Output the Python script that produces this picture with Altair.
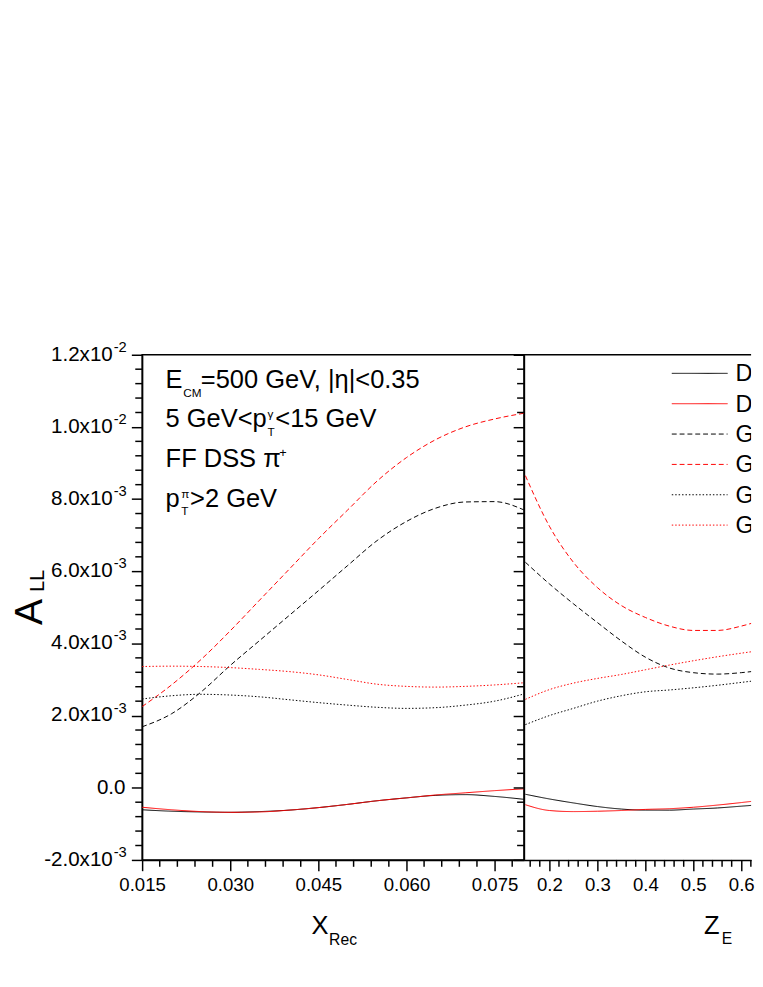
import altair as alt
import pandas as pd

FONT = "Liberation Sans"

# ---------------- data: A_LL values in units of 1e-3 ----------------
x_rec = [0.015, 0.020, 0.025, 0.030, 0.035, 0.040, 0.045, 0.050, 0.055, 0.060, 0.065, 0.070, 0.075, 0.080]
rec_black_solid = [-0.61, -0.65, -0.67, -0.68, -0.66, -0.62, -0.55, -0.46, -0.36, -0.28, -0.21, -0.19, -0.24, -0.32]
rec_red_solid = [-0.54, -0.61, -0.66, -0.68, -0.67, -0.62, -0.55, -0.46, -0.36, -0.28, -0.20, -0.14, -0.08, -0.03]
rec_black_dashed = [1.69, 2.05, 2.65, 3.39, 4.08, 4.77, 5.46, 6.16, 6.85, 7.38, 7.75, 7.92, 7.93, 7.70]
rec_red_dashed = [2.25, 2.85, 3.55, 4.35, 5.20, 6.05, 6.90, 7.70, 8.50, 9.15, 9.65, 10.00, 10.22, 10.38]
rec_black_dotted = [2.46, 2.55, 2.59, 2.57, 2.52, 2.44, 2.36, 2.29, 2.23, 2.20, 2.22, 2.29, 2.40, 2.60]
rec_red_dotted = [3.36, 3.37, 3.36, 3.33, 3.28, 3.22, 3.13, 3.00, 2.87, 2.81, 2.79, 2.81, 2.85, 2.91]

z_e = [0.15, 0.20, 0.25, 0.30, 0.35, 0.40, 0.45, 0.50, 0.55, 0.60, 0.65]
ze_black_solid = [-0.18, -0.31, -0.42, -0.52, -0.59, -0.62, -0.62, -0.59, -0.56, -0.51, -0.46]
ze_red_solid = [-0.47, -0.63, -0.66, -0.65, -0.63, -0.60, -0.58, -0.54, -0.48, -0.41, -0.33]
ze_black_dashed = [6.25, 5.65, 5.10, 4.58, 4.07, 3.62, 3.32, 3.19, 3.15, 3.19, 3.27]
ze_red_dashed = [8.65, 7.25, 6.25, 5.55, 5.05, 4.72, 4.48, 4.36, 4.36, 4.48, 4.68]
ze_black_dotted = [1.75, 2.00, 2.20, 2.40, 2.55, 2.66, 2.71, 2.77, 2.84, 2.92, 3.00]
ze_red_dotted = [2.45, 2.72, 2.90, 3.03, 3.14, 3.27, 3.40, 3.52, 3.63, 3.73, 3.82]

series_names = ["DSSV", "DNS", "GRSV max", "GS-A", "GRSV std", "GS-C"]
series_colors = ["#000000", "#ff0000", "#000000", "#ff0000", "#000000", "#ff0000"]
series_styles = ["solid", "solid", "dashed", "dashed", "dotted", "dotted"]

# tick values / labels
y_major = [-0.002, 0.0, 0.002, 0.004, 0.006, 0.008, 0.010, 0.012]
y_mantissa = ["-2.0x10", "0.0", "2.0x10", "4.0x10", "6.0x10", "8.0x10", "1.0x10", "1.2x10"]
y_exponent = ["-3", "", "-3", "-3", "-3", "-3", "-2", "-2"]
y_minor = [round(-0.002 + 0.0004 * i, 6) for i in range(36) if i % 5 != 0]

x_rec_major = [0.015, 0.030, 0.045, 0.060, 0.075]
x_rec_minor = [round(0.015 + 0.003 * i, 4) for i in range(1, 22) if i % 5 != 0]
z_major = [0.2, 0.3, 0.4, 0.5, 0.6]
z_minor = [round(0.16 + 0.02 * i, 3) for i in range(24) if (i + 3) % 5 != 0]

# ---------------- layout constants ----------------
W_L, W_R, H = 390, 232, 516
REC_DOMAIN = [0.015, 0.08]
Z_DOMAIN = [0.147, 0.147 + W_R / 490.0]
Y_DOMAIN = [-0.002, 0.012]
DASH = {"solid": [1, 0], "dashed": [5, 3], "dotted": [1.5, 2]}

y_axis = alt.Axis(values=y_major, tickSize=11, tickWidth=1.5, labels=False, title=None,
                  domainWidth=1.5, domainColor="black", tickColor="black", grid=False)
y_enc = alt.Y("y:Q", scale=alt.Scale(domain=Y_DOMAIN, nice=False, zero=False), axis=y_axis)


def x_axis(values, fmt):
    return alt.Axis(values=values, format=fmt, tickSize=11, tickWidth=1.5, title=None,
                    labelFont=FONT, labelFontSize=19, labelColor="black", labelPadding=5,
                    labelFlush=False, labelOverlap=False, domainWidth=1.5,
                    domainColor="black", tickColor="black", grid=False)


x_rec_enc = alt.X("x:Q", scale=alt.Scale(domain=REC_DOMAIN, nice=False, zero=False),
                  axis=x_axis(x_rec_major, ".3f"))
x_z_enc = alt.X("x:Q", scale=alt.Scale(domain=Z_DOMAIN, nice=False, zero=False),
                axis=x_axis(z_major, ".1f"))


def line_layer(xs, ys, idx, xenc):
    df = pd.DataFrame({"x": xs, "y": [v * 1e-3 for v in ys]})
    return alt.Chart(df).mark_line(
        color=series_colors[idx], strokeDash=DASH[series_styles[idx]], strokeWidth=1,
        interpolate="monotone", clip=True
    ).encode(x=xenc, y=y_enc)


def text(s, x, y, size, align="left", baseline="alphabetic", angle=0, clip=False):
    kw = dict(text=s, font=FONT, fontSize=size, align=align, baseline=baseline, color="black")
    if angle:
        kw["angle"] = angle
    if clip:
        kw["clip"] = True
    return alt.Chart(pd.DataFrame({"t": [s]})).mark_text(**kw).encode(
        x=alt.value(x), y=alt.value(y))


def minor_y_ticks():
    return alt.Chart(pd.DataFrame({"y": y_minor})).mark_rule(color="black", strokeWidth=1.5).encode(
        y=y_enc, x=alt.value(-7), x2=alt.value(0))


def minor_x_ticks(vals, xenc):
    return alt.Chart(pd.DataFrame({"x": vals})).mark_rule(color="black", strokeWidth=1.5).encode(
        x=xenc, y=alt.value(H), y2=alt.value(H + 7))


# ---------------- left panel ----------------
rec_series = [rec_black_solid, rec_red_solid, rec_black_dashed, rec_red_dashed,
              rec_black_dotted, rec_red_dotted]
left_layers = [line_layer(x_rec, s, i, x_rec_enc) for i, s in enumerate(rec_series)]
left_layers += [minor_y_ticks(), minor_x_ticks(x_rec_minor, x_rec_enc)]

ylab = pd.DataFrame({"y": y_major, "m": y_mantissa, "e": y_exponent})
left_layers.append(alt.Chart(ylab).transform_filter("datum.e != ''").mark_text(
    font=FONT, fontSize=21, align="right", baseline="middle", color="black").encode(
    y=y_enc, x=alt.value(-30), text="m:N"))
left_layers.append(alt.Chart(ylab).transform_filter("datum.e != ''").mark_text(
    font=FONT, fontSize=15, align="left", baseline="middle", color="black", dy=-8).encode(
    y=y_enc, x=alt.value(-29), text="e:N"))
left_layers.append(alt.Chart(ylab).transform_filter("datum.e == ''").mark_text(
    font=FONT, fontSize=21, align="right", baseline="middle", color="black").encode(
    y=y_enc, x=alt.value(-17), text="m:N"))

# annotations
left_layers += [
    text("E", 24, 34, 26),
    text("CM", 42, 43, 12),
    text("=500 GeV, |η|<0.35", 60, 34, 26),
    text("5 GeV<p", 24, 74, 26),
    text("T", 128, 83, 12),
    text("γ", 128, 65, 12),
    text("<15 GeV", 136, 74, 26),
    text("FF DSS π", 24, 115, 26),
    text("+", 140, 104, 13),
    text("p", 24, 155, 26),
    text("T", 40, 164, 12),
    text("π", 40, 146, 12),
    text(">2 GeV", 49, 155, 26),
    # axis titles
    text("X", 173, 592, 26),
    text("Rec", 191, 603, 16),
    text("A", -102, 276, 40, angle=270),
    text("LL", -100, 242, 20, angle=270),
]

left = alt.layer(*left_layers).properties(
    width=W_L, height=H, view=alt.ViewBackground(stroke="black", strokeWidth=1.5))

# ---------------- right panel ----------------
ze_series = [ze_black_solid, ze_red_solid, ze_black_dashed, ze_red_dashed,
             ze_black_dotted, ze_red_dotted]
right_layers = [line_layer(z_e, s, i, x_z_enc) for i, s in enumerate(ze_series)]
right_layers += [minor_y_ticks(), minor_x_ticks(z_minor, x_z_enc)]
right_layers.append(alt.Chart(pd.DataFrame({"t": ["top"]})).mark_rule(
    color="black", strokeWidth=1.5).encode(x=alt.value(0), x2=alt.value(W_R), y=alt.value(0)))

legend_rows = [19, 50, 81, 112, 143, 174]
for i, name in enumerate(series_names):
    right_layers.append(alt.Chart(pd.DataFrame({"t": [name]})).mark_rule(
        color=series_colors[i], strokeDash=DASH[series_styles[i]], strokeWidth=1).encode(
        x=alt.value(151), x2=alt.value(208), y=alt.value(legend_rows[i])))
    right_layers.append(text(name, 216, legend_rows[i] + 8, 24, clip=True))

right_layers += [text("Z", 184, 592, 26), text("E", 202, 602, 16)]

right = alt.layer(*right_layers).properties(
    width=W_R, height=H, view=alt.ViewBackground(stroke="transparent", strokeWidth=0))

chart = alt.hconcat(left, right, spacing=0, bounds="flush").properties(
    padding={"left": 2, "top": 328, "right": 0, "bottom": 0}
).configure(background="white", font=FONT)

chart.save("out.html", embed_options={"renderer": "svg", "actions": False})
